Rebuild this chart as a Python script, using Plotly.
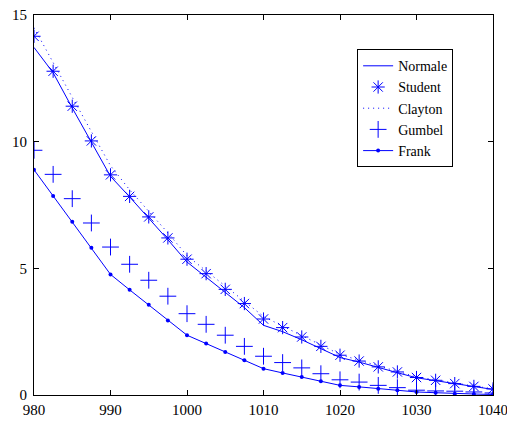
import plotly.graph_objects as go

x = [980 + 2.5 * i for i in range(25)]

normale = [13.72, 12.72, 11.33, 9.99, 8.63, 7.82, 6.99, 6.13, 5.25, 4.65, 4.05, 3.45, 2.75,
           2.5, 2.18, 1.83, 1.48, 1.3, 1.08, 0.88, 0.68, 0.56, 0.44, 0.33, 0.22]
student = [14.16, 12.78, 11.40, 10.03, 8.69, 7.84, 7.03, 6.20, 5.36, 4.79, 4.17, 3.61, 3.0,
           2.66, 2.29, 1.92, 1.57, 1.34, 1.11, 0.91, 0.69, 0.58, 0.45, 0.34, 0.24]
clayton = [14.5, 13.1, 11.75, 10.4, 9.05, 8.1, 7.25, 6.4, 5.5, 4.9, 4.3, 3.7, 3.1,
           2.72, 2.35, 1.97, 1.6, 1.37, 1.14, 0.93, 0.71, 0.6, 0.47, 0.35, 0.25]
gumbel = [9.66, 8.71, 7.75, 6.79, 5.84, 5.16, 4.53, 3.90, 3.21, 2.79, 2.36, 1.92, 1.53,
          1.28, 1.07, 0.84, 0.60, 0.51, 0.38, 0.29, 0.19, 0.16, 0.15, 0.12, 0.08]
frank = [8.89, 7.86, 6.84, 5.81, 4.76, 4.15, 3.56, 2.94, 2.36, 2.03, 1.70, 1.37, 1.04,
         0.87, 0.71, 0.54, 0.38, 0.32, 0.25, 0.19, 0.12, 0.09, 0.05, 0.04, 0.02]

x_ticks = [980, 990, 1000, 1010, 1020, 1030, 1040]
y_ticks = [0, 5, 10, 15]

FONT = "Liberation Serif, Times New Roman, Times, serif"
blue = "#0000ff"
fig = go.Figure()
fig.add_trace(go.Scatter(x=x, y=normale, name="Normale", mode="lines",
                         line=dict(color=blue, width=1)))
fig.add_trace(go.Scatter(x=x, y=student, name="Student", mode="markers",
                         marker=dict(symbol="asterisk-open", size=11, color=blue,
                                     line=dict(color=blue, width=1))))
fig.add_trace(go.Scatter(x=x, y=clayton, name="Clayton", mode="lines",
                         line=dict(color=blue, width=1, dash="1px,4px")))
fig.add_trace(go.Scatter(x=x, y=gumbel, name="Gumbel", mode="markers",
                         marker=dict(symbol="cross-thin-open", size=12, color=blue,
                                     line=dict(color=blue, width=1))))
fig.add_trace(go.Scatter(x=x, y=frank, name="Frank", mode="lines+markers",
                         line=dict(color=blue, width=1),
                         marker=dict(symbol="circle", size=4, color=blue)))

axis_common = dict(showgrid=False, zeroline=False, showline=True, linecolor="black",
                   linewidth=1, mirror="ticks", ticks="inside", ticklen=5, automargin=False,
                   ticklabeloverflow="allow",
                   tickcolor="black", tickfont=dict(family=FONT, size=15, color="black"))
fig.update_xaxes(range=[980, 1040], tickvals=x_ticks, ticktext=[str(v) for v in x_ticks],
                 ticklabelstandoff=1, **axis_common)
fig.update_yaxes(range=[0, 15], tickvals=y_ticks, ticktext=[str(v) for v in y_ticks],
                 ticklabelstandoff=3, **axis_common)

fig.update_layout(
    width=507, height=421,
    margin=dict(l=34, r=14, t=15, b=26),
    plot_bgcolor="white", paper_bgcolor="white",
    font=dict(family=FONT, size=15, color="black"),
    legend=dict(x=0.704, y=0.91, xanchor="left", yanchor="top",
                bgcolor="white", bordercolor="black", borderwidth=1,
                font=dict(family=FONT, size=14, color="black"),
                tracegroupgap=0, itemwidth=30),
)

fig.write_html("out.html", config={"displayModeBar": False},
               post_script="document.body.style.margin='0';document.body.style.overflow='hidden';")
